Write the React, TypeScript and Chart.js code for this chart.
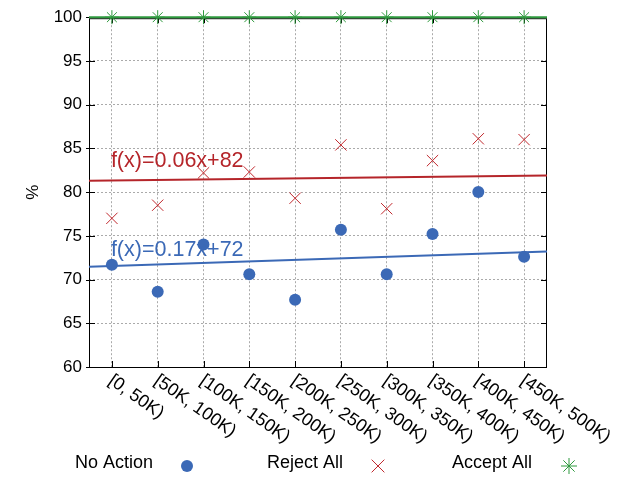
import { useEffect, useRef } from "react"
import { Chart, registerables } from "chart.js"

Chart.register(...registerables)

const categories = [
  "[0, 50K)",
  "[50K, 100K)",
  "[100K, 150K)",
  "[150K, 200K)",
  "[200K, 250K)",
  "[250K, 300K)",
  "[300K, 350K)",
  "[350K, 400K)",
  "[400K, 450K)",
  "[450K, 500K)",
]

const noAction = [71.7, 68.6, 74.0, 70.6, 67.7, 75.7, 70.6, 75.2, 80.0, 72.6]
const rejectAll = [77.0, 78.5, 82.2, 82.3, 79.3, 85.4, 78.1, 83.6, 86.1, 86.0]
const acceptAll = [100, 100, 100, 100, 100, 100, 100, 100, 100, 100]

// fitted lines, value at the left and right edge of the x range
const noActionTrend = [71.45, 73.2]
const rejectTrend = [81.3, 81.9]
const acceptTrend = [100, 100]

const trendLabels = ["f(x)=0.06x+82", "f(x)=0.17x+72"]
const trendLabelY = [82.9, 72.7]

const yMin = 60
const yMax = 100
const yStep = 5

const FONT = "'Liberation Sans', Arial, sans-serif"
const BLUE = "#3b69b6"
const RED = "#c0282d"
const RED_LINE = "#b5252a"
const GREEN = "#2f9a3f"

const xMin = 0.5
const xMax = categories.length + 0.5

const toPoints = (vals: number[]) => vals.map((v, i) => ({ x: i + 1, y: v }))
const edgePoints = (vals: number[]) => [
  { x: xMin, y: vals[0] },
  { x: xMax, y: vals[1] },
]

function drawMarker(ctx: CanvasRenderingContext2D, style: string, x: number, y: number, r: number) {
  ctx.beginPath()
  if (style === "circle") {
    ctx.arc(x, y, r, 0, Math.PI * 2)
    ctx.fill()
    return
  }
  const d = r * Math.SQRT1_2
  ctx.moveTo(x - d, y - d)
  ctx.lineTo(x + d, y + d)
  ctx.moveTo(x + d, y - d)
  ctx.lineTo(x - d, y + d)
  if (style === "star") {
    ctx.moveTo(x, y - r)
    ctx.lineTo(x, y + r)
    ctx.moveTo(x - r, y)
    ctx.lineTo(x + r, y)
  }
  ctx.stroke()
}

const framePlugin = {
  id: "frame",
  beforeDatasetsDraw(chart: Chart) {
    const { ctx, chartArea: a } = chart
    const xs = chart.scales.x
    const ys = chart.scales.y
    ctx.save()
    ctx.strokeStyle = "#000"
    ctx.lineWidth = 1
    ctx.strokeRect(a.left + 0.5, a.top + 1.5, a.right - a.left - 1, a.bottom - a.top - 1)
    ctx.beginPath()
    ys.ticks.forEach((t) => {
      const py = Math.round(ys.getPixelForValue(t.value)) + 0.5
      ctx.moveTo(a.left - 3, py)
      ctx.lineTo(a.left + 6, py)
      ctx.moveTo(a.right, py)
      ctx.lineTo(a.right - 6, py)
    })
    xs.ticks.forEach((t) => {
      const px = Math.round(xs.getPixelForValue(t.value)) + 0.5
      ctx.moveTo(px, a.bottom)
      ctx.lineTo(px, a.bottom - 6)
      ctx.moveTo(px, a.top)
      ctx.lineTo(px, a.top + 6)
    })
    ctx.stroke()
    ctx.restore()
  },
  afterDraw(chart: Chart) {
    const { ctx, chartArea: a } = chart
    const xs = chart.scales.x
    const ys = chart.scales.y
    ctx.save()

    // rotated category labels (about 35 degrees, reading downwards)
    ctx.fillStyle = "#000"
    ctx.font = `18px ${FONT}`
    ctx.textAlign = "left"
    ctx.textBaseline = "alphabetic"
    categories.forEach((c, i) => {
      const px = xs.getPixelForValue(i + 1)
      ctx.save()
      ctx.translate(px - 4.5, a.bottom + 16)
      ctx.rotate((35 * Math.PI) / 180)
      ctx.fillText(c, 0, 0)
      ctx.restore()
    })

    // trend line labels
    ctx.font = `21.5px ${FONT}`
    ctx.fillStyle = RED_LINE
    ctx.fillText(trendLabels[0], xs.getPixelForValue(1) - 1, ys.getPixelForValue(trendLabelY[0]))
    ctx.fillStyle = BLUE
    ctx.fillText(trendLabels[1], xs.getPixelForValue(1) - 1, ys.getPixelForValue(trendLabelY[1]))

    // legend: text first, marker after
    const items = [
      { label: "No Action", style: "circle", color: BLUE, tx: 75, mx: 187, r: 6 },
      { label: "Reject All", style: "crossRot", color: RED, tx: 267, mx: 378, r: 9 },
      { label: "Accept All", style: "star", color: GREEN, tx: 452, mx: 569, r: 8 },
    ]
    ctx.font = `18px ${FONT}`
    ctx.textBaseline = "middle"
    items.forEach((it) => {
      ctx.fillStyle = "#000"
      ctx.fillText(it.label, it.tx, 463)
      ctx.fillStyle = it.color
      ctx.strokeStyle = it.color
      ctx.lineWidth = 1
      drawMarker(ctx, it.style, it.mx, 466, it.r)
    })
    ctx.restore()
  },
}

export default function App() {
  const canvasRef = useRef<HTMLCanvasElement | null>(null)
  const chartRef = useRef<Chart | null>(null)

  useEffect(() => {
    if (!canvasRef.current) return
    if (chartRef.current) chartRef.current.destroy()

    chartRef.current = new Chart(canvasRef.current, {
      type: "scatter",
      data: {
        datasets: [
          {
            label: "No Action",
            data: toPoints(noAction),
            pointStyle: "circle",
            pointRadius: 6,
            backgroundColor: BLUE,
            borderColor: BLUE,
            borderWidth: 0,
            clip: false,
          },
          {
            label: "Reject All",
            data: toPoints(rejectAll),
            pointStyle: "crossRot",
            pointRadius: 8,
            borderColor: RED,
            backgroundColor: RED,
            borderWidth: 1,
            clip: false,
          },
          {
            label: "Accept All",
            data: toPoints(acceptAll),
            pointStyle: "star",
            pointRadius: 7,
            borderColor: GREEN,
            backgroundColor: GREEN,
            borderWidth: 1,
            clip: false,
          },
          {
            label: "No Action fit",
            data: edgePoints(noActionTrend),
            showLine: true,
            pointRadius: 0,
            borderColor: BLUE,
            borderWidth: 2,
            clip: false,
          },
          {
            label: "Reject All fit",
            data: edgePoints(rejectTrend),
            showLine: true,
            pointRadius: 0,
            borderColor: RED_LINE,
            borderWidth: 2,
            clip: false,
          },
          {
            label: "Accept All fit",
            data: edgePoints(acceptTrend),
            showLine: true,
            pointRadius: 0,
            borderColor: GREEN,
            borderWidth: 2,
            clip: false,
          },
        ],
      },
      options: {
        animation: false,
        responsive: true,
        maintainAspectRatio: false,
        events: [],
        layout: { padding: { left: 0, right: 93, top: 17, bottom: 0 } },
        scales: {
          x: {
            type: "linear",
            min: xMin,
            max: xMax,
            afterBuildTicks: (scale) => {
              scale.ticks = categories.map((_, i) => ({ value: i + 1 }))
            },
            afterFit: (scale) => {
              scale.height = 113
            },
            ticks: { display: false },
            grid: { color: "#aaaaaa", lineWidth: 1, drawTicks: false },
            border: { display: false, dash: [2, 2] },
          },
          y: {
            min: yMin,
            max: yMax,
            afterFit: (scale) => {
              scale.width = 89
            },
            ticks: {
              stepSize: yStep,
              color: "#000",
              padding: 7,
              font: { family: FONT, size: 17 },
            },
            title: {
              display: true,
              text: "%",
              color: "#000",
              font: { family: FONT, size: 17 },
              padding: { top: 23, bottom: 0 },
            },
            grid: { color: "#aaaaaa", lineWidth: 1, drawTicks: false },
            border: { display: false, dash: [2, 2] },
          },
        },
        plugins: {
          legend: { display: false },
          tooltip: { enabled: false },
        },
      },
      plugins: [framePlugin],
    })

    return () => {
      if (chartRef.current) {
        chartRef.current.destroy()
        chartRef.current = null
      }
    }
  }, [])

  return (
    <div style={{ position: "fixed", left: 0, top: 0, width: 640, height: 480, background: "#fff" }}>
      <canvas ref={canvasRef} />
    </div>
  )
}
